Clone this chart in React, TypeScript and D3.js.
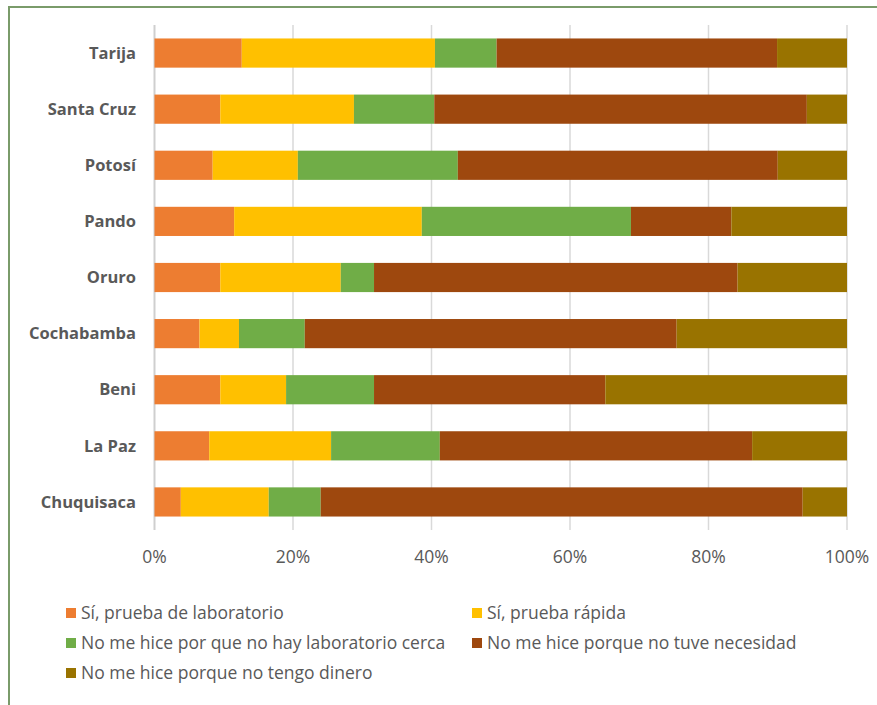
import React from "react";
import * as d3 from "d3";

const categories = ["Tarija", "Santa Cruz", "Potosí", "Pando", "Oruro", "Cochabamba", "Beni", "La Paz", "Chuquisaca"];
const seriesNames = [
  "Sí, prueba de laboratorio",
  "Sí, prueba rápida",
  "No me hice por que no hay laboratorio cerca",
  "No me hice porque no tuve necesidad",
  "No me hice porque no tengo dinero",
];
const labLab = [12.6, 9.5, 8.4, 11.5, 9.5, 6.5, 9.5, 7.9, 3.8];
const rapida = [27.9, 19.3, 12.3, 27.1, 17.4, 5.7, 9.5, 17.6, 12.7];
const noLab = [8.9, 11.6, 23.1, 30.2, 4.8, 9.5, 12.7, 15.7, 7.5];
const noNecesidad = [40.5, 53.8, 46.2, 14.5, 52.5, 53.7, 33.4, 45.1, 69.6];
const noDinero = [10.1, 5.8, 10.0, 16.7, 15.8, 24.6, 34.9, 13.7, 6.4];
const tickValues = [0, 0.2, 0.4, 0.6, 0.8, 1.0];

const colors = ["#ED7D31", "#FFC000", "#70AD47", "#9E480E", "#997300"];

export default function App() {
  const W = 877, H = 705;
  const series = [labLab, rapida, noLab, noNecesidad, noDinero];
  const rows = categories.map((c, i) => {
    const o: any = { cat: c };
    series.forEach((s, k) => (o["s" + k] = s[i]));
    return o;
  });
  const keys = series.map((_, k) => "s" + k);
  const stack = d3.stack().keys(keys).offset(d3.stackOffsetExpand);
  const stacked = stack(rows);

  const x = d3.scaleLinear().domain([0, 1]).range([154.5, 847]);
  const y = d3.scaleBand().domain(categories).range([25, 530]).paddingInner(0.48).paddingOuter(0.24);
  const fmt = d3.format(".0%");
  const font = "'Open Sans', sans-serif";
  const legendPos = [
    [66, 613], [472, 613], [66, 643], [472, 643], [66, 673],
  ];

  return (
    <svg width={W} height={H} style={{ position: "absolute", left: 0, top: 0, background: "#fff" }} fontFamily={font}>
      <rect x={0} y={0} width={W} height={H} fill="#fff" />
      <rect x={9} y={7} width={W + 20} height={H + 20} fill="none" stroke="#7a9b6a" strokeWidth={2} />
      {tickValues.map((t) => (
        <line key={t} x1={x(t)} x2={x(t)} y1={25} y2={530} stroke={t === 0 ? "#cfcfcf" : "#d9d9d9"} strokeWidth={t === 0 ? 2 : 1.5} />
      ))}
      {stacked.map((layer, k) => (
        <g key={k} fill={colors[k]}>
          {layer.map((d: any, i: number) => (
            <rect key={i} x={x(d[0])} y={y(categories[i])} width={x(d[1]) - x(d[0])} height={y.bandwidth()} />
          ))}
        </g>
      ))}
      {categories.map((c) => (
        <text key={c} x={136} y={(y(c) as number) + y.bandwidth() / 2} dy="0.35em" textAnchor="end" fontWeight="bold" fontSize={16.5} fill="#595959">
          {c}
        </text>
      ))}
      {tickValues.map((t) => (
        <text key={t} x={x(t)} y={557} dy="0.35em" textAnchor="middle" fontSize={17.5} fill="#595959">
          {fmt(t)}
        </text>
      ))}
      {seriesNames.map((n, k) => (
        <g key={n}>
          <rect x={legendPos[k][0]} y={legendPos[k][1] - 5} width={10} height={10} fill={colors[k]} />
          <text x={legendPos[k][0] + 15} y={legendPos[k][1]} dy="0.35em" fontSize={17.5} fontWeight={500} fill="#595959">
            {n}
          </text>
        </g>
      ))}
    </svg>
  );
}
